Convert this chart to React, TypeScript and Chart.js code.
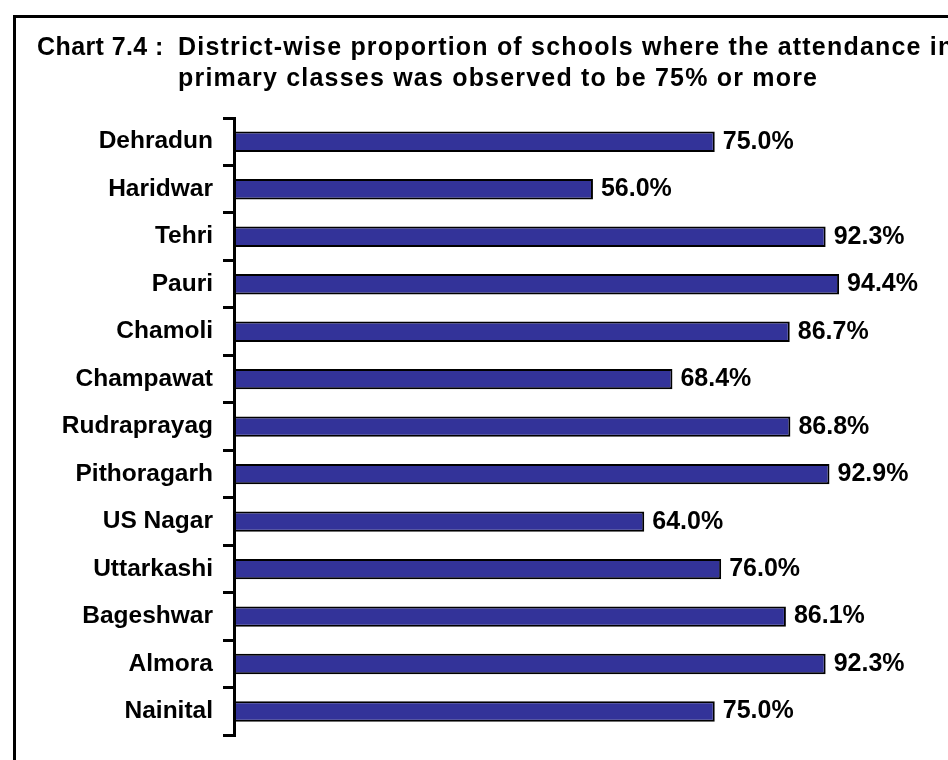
import React, { useEffect, useRef } from "react";
import { Chart, registerables } from "chart.js";

Chart.register(...registerables);

const districts = [
  "Dehradun",
  "Haridwar",
  "Tehri",
  "Pauri",
  "Chamoli",
  "Champawat",
  "Rudraprayag",
  "Pithoragarh",
  "US Nagar",
  "Uttarkashi",
  "Bageshwar",
  "Almora",
  "Nainital",
];
const attendanceShare = [75.0, 56.0, 92.3, 94.4, 86.7, 68.4, 86.8, 92.9, 64.0, 76.0, 86.1, 92.3, 75.0];
const titleLabel = "Chart 7.4 :";
const titleLine1 = "District-wise proportion of schools where the attendance in";
const titleLine2 = "primary classes was observed to be 75% or more";

const FONT = "'Liberation Sans', Arial, Helvetica, sans-serif";

const valueLabels = {
  id: "valueLabels",
  afterDatasetsDraw(chart: any) {
    const ctx = chart.ctx;
    const meta = chart.getDatasetMeta(0);
    ctx.save();
    ctx.font = `bold 25px ${FONT}`;
    ctx.fillStyle = "#000";
    ctx.textAlign = "left";
    ctx.textBaseline = "middle";
    meta.data.forEach((bar: any, i: number) => {
      ctx.fillText(attendanceShare[i].toFixed(1) + "%", bar.x + 8, bar.y);
    });
    ctx.restore();
  },
};

export default function App() {
  const canvasRef = useRef<HTMLCanvasElement | null>(null);

  useEffect(() => {
    if (!canvasRef.current) return;
    const chart = new Chart(canvasRef.current, {
      type: "bar",
      data: {
        labels: districts,
        datasets: [
          {
            data: attendanceShare,
            backgroundColor: "#333399",
            borderColor: "#000000",
            borderWidth: 2,
            borderSkipped: false,
            barPercentage: 0.43,
            categoryPercentage: 1,
          },
        ],
      },
      options: {
        indexAxis: "y",
        animation: false,
        responsive: false,
        maintainAspectRatio: false,
        layout: { padding: { top: 118, bottom: 17, left: 0, right: 73 } },
        plugins: {
          legend: { display: false },
          tooltip: { enabled: false },
          title: { display: false },
        },
        scales: {
          x: { display: false, min: 0, max: 100 },
          y: {
            afterFit: (s: any) => {
              s.width = 234;
            },
            grid: {
              display: true,
              drawOnChartArea: false,
              drawTicks: true,
              tickLength: 11,
              color: "#000",
              lineWidth: 3,
              offset: true,
            },
            border: { display: true, color: "#000", width: 3 },
            ticks: {
              color: "#000",
              autoSkip: false,
              padding: 10,
              font: { family: FONT, size: 24.5, weight: "bold" },
            },
          },
        },
      },
      plugins: [valueLabels],
    });
    return () => chart.destroy();
  }, []);

  const titleStyle: React.CSSProperties = {
    position: "absolute",
    fontFamily: FONT,
    fontWeight: "bold",
    fontSize: 25,
    lineHeight: "25px",
    whiteSpace: "nowrap",
    color: "#000",
    letterSpacing: "1.2px",
  };

  return (
    <div
      style={{
        position: "fixed",
        left: 0,
        top: 0,
        width: 948,
        height: 760,
        overflow: "hidden",
        background: "#fff",
      }}
    >
      <div
        style={{
          position: "absolute",
          left: 13,
          top: 15,
          width: 1200,
          height: 1200,
          borderTop: "3px solid #000",
          borderLeft: "3px solid #000",
        }}
      />
      <canvas
        ref={canvasRef}
        width={948}
        height={760}
        style={{ position: "absolute", left: 0, top: 0, width: 948, height: 760 }}
      />
      <div style={{ ...titleStyle, left: 37, top: 34, letterSpacing: "0.4px" }}>{titleLabel}</div>
      <div style={{ ...titleStyle, left: 178, top: 34 }}>{titleLine1}</div>
      <div style={{ ...titleStyle, left: 178, top: 65 }}>{titleLine2}</div>
    </div>
  );
}
